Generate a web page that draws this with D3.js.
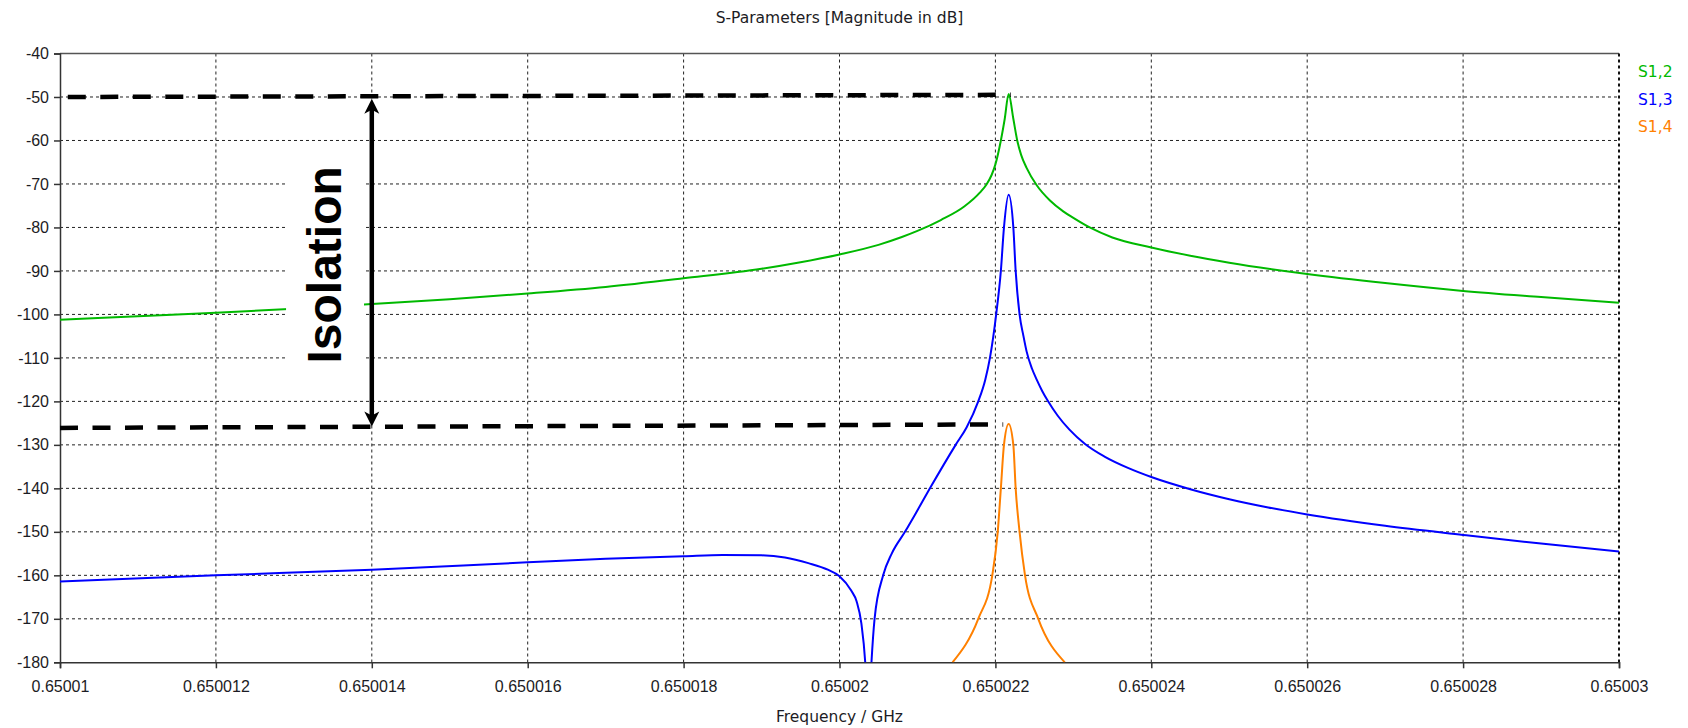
<html>
<head>
<meta charset="UTF-8"/>
<script src="https://d3js.org/d3.v7.min.js"></script>
<title>S-Parameters</title>
<style>
body{ margin:0; background:#fff; }
svg{ background:#fff; font-family:"DejaVu Sans", Verdana, sans-serif; }
.tick text{ font-size:16px; fill:#1c1c24; }
.grid line{ stroke:#222; stroke-dasharray:3,3; stroke-width:1; }
</style>
</head>
<body>
<svg id="plot" width="1688" height="728"></svg>
<script>
'use strict';
// frequency ticks (GHz) and their labels as shown
var xTicks = [0.65001,0.650012,0.650014,0.650016,0.650018,0.65002,0.650022,0.650024,0.650026,0.650028,0.65003];
var xLabels = ['0.65001','0.650012','0.650014','0.650016','0.650018','0.65002','0.650022','0.650024','0.650026','0.650028','0.65003'];
var yTicks = [-40,-50,-60,-70,-80,-90,-100,-110,-120,-130,-140,-150,-160,-170,-180];

// curves: [frequency GHz, dB]
var s12 = [[0.65001,-101.2],[0.650011,-100.4],[0.650012,-99.6],[0.650013,-98.7],[0.650014,-97.6],
  [0.650015,-96.5],[0.650016,-95.2],[0.650017,-93.7],[0.650018,-91.7],[0.650019,-89.5],[0.6500195,-88.0],
  [0.65002,-86.2],[0.6500205,-84.0],[0.6500208,-82.2],[0.650021,-80.8],[0.6500213,-78.3],[0.6500216,-75.2],
  [0.6500218,-72.0],[0.65002189,-70],[0.65002195,-68],[0.650022,-65.5],[0.65002207,-60],[0.65002212,-55],
  [0.65002217,-49.3],[0.65002223,-55],[0.65002228,-60],[0.65002233,-63.3],[0.6500224,-66.3],[0.65002253,-70.3],
  [0.6500227,-73.8],[0.65002287,-76.3],[0.650023,-77.8],[0.65002321,-80],[0.6500235,-82.3],[0.650024,-84.6],
  [0.6500245,-86.5],[0.650025,-88.1],[0.650026,-90.7],[0.650027,-92.8],[0.650028,-94.6],[0.650029,-96],
  [0.65003,-97.3]];
var s13 = [[0.65001,-161.4],[0.650012,-160.0],[0.650014,-158.7],[0.650016,-157.0],[0.650017,-156.2],
  [0.650018,-155.6],[0.6500185,-155.3],[0.650019,-155.4],[0.6500193,-155.9],[0.6500196,-157.2],
  [0.65001985,-158.7],[0.65002,-160.2],[0.65002015,-163.5],[0.65002022,-166],[0.65002028,-171],
  [0.65002033,-180],[0.65002037,-195],[0.65002041,-180],[0.65002045,-170],[0.65002056,-160],
  [0.65002067,-155],[0.65002084,-150],[0.65002097,-146],[0.65002116,-140],[0.65002149,-130],
  [0.65002163,-126],[0.65002178,-120],[0.65002187,-115],[0.65002193,-110],[0.65002201,-100],
  [0.65002207,-90],[0.65002211,-80],[0.65002217,-72.5],[0.65002223,-80],[0.65002226,-90],
  [0.65002231,-100],[0.65002236,-105],[0.6500224,-108.5],[0.65002247,-112.5],[0.65002253,-115],
  [0.6500226,-117.6],[0.65002267,-119.8],[0.6500228,-123.3],[0.65002295,-126.5],[0.65002315,-129.8],
  [0.6500234,-132.7],[0.6500237,-135.3],[0.650024,-137.4],[0.6500245,-140.2],[0.650025,-142.5],
  [0.6500255,-144.4],[0.650026,-146],[0.650027,-148.6],[0.650028,-150.7],[0.650029,-152.7],[0.65003,-154.5]];
var s14 = [[0.65002145,-180],[0.65002178,-170],[0.65002196,-160],[0.65002203,-150],[0.65002207,-140],
  [0.65002211,-130],[0.65002217,-125.2],[0.65002223,-130],[0.65002226,-140],[0.65002231,-150],
  [0.65002238,-160],[0.65002255,-170],[0.65002289,-180]];
var seriesNames = ['S1,2','S1,3','S1,4'];
var seriesColors = ['#00b900','#0000ff','#ff8000'];

// annotation (hand drawn lines) in data units
var isoTop = [[0.6500101,-50.0],[0.6500222,-49.5]];
var isoBottom = [[0.6500100,-126.1],[0.6500221,-125.3]];
var arrowAt = [0.650014,-50.4,-125.8];
var labelBox = [0.6500129,0.6500139,-62.2,-116.2];
var labelPos = [0.65001361,-88.6];

var svg = d3.select('#plot');
var L = 60, R = 1619, T = 53.5, B = 662.3;
var x = d3.scaleLinear().domain([0.65001,0.65003]).range([L,R]);
var y = d3.scaleLinear().domain([-180,-40]).range([B,T]);

svg.append('defs').append('clipPath').attr('id','clip')
  .append('rect').attr('x',L).attr('y',T).attr('width',R-L).attr('height',B-T);

// grid
var grid = svg.append('g').attr('class','grid');
grid.selectAll('.gx').data(xTicks.slice(1,-1)).enter().append('line')
  .attr('x1',d=>x(d)).attr('x2',d=>x(d)).attr('y1',T).attr('y2',B);
grid.selectAll('.gy').data(yTicks.slice(1,-1)).enter().append('line')
  .attr('x1',L).attr('x2',R).attr('y1',d=>y(d)).attr('y2',d=>y(d));

// frame
svg.append('line').attr('x1',L).attr('x2',R).attr('y1',T).attr('y2',T)
  .attr('stroke','#555').attr('stroke-width',1.5);
svg.append('line').attr('x1',R).attr('x2',R).attr('y1',T).attr('y2',B)
  .attr('stroke','#111').attr('stroke-width',2).attr('stroke-dasharray','3,3');

var xAxis = d3.axisBottom(x).tickValues(xTicks).tickFormat((d,i)=>xLabels[i]).tickSize(6).tickPadding(12);
var yAxis = d3.axisLeft(y).tickValues(yTicks).tickFormat(d=>d).tickSize(6).tickPadding(5);
var gx = svg.append('g').attr('transform','translate(0,'+B+')').call(xAxis);
var gy = svg.append('g').attr('transform','translate('+L+',0)').call(yAxis);
[gx,gy].forEach(function(g){
  g.select('.domain').attr('stroke','#333').attr('stroke-width',1.5);
  g.selectAll('.tick line').attr('stroke','#333').attr('stroke-width',1.5);
});
gx.selectAll('.tick text').attr('dy','0.71em');

// curves
var line = d3.line().x(d=>x(d[0])).y(d=>y(d[1])).curve(d3.curveMonotoneX);
var curves = svg.append('g').attr('clip-path','url(#clip)');
[s12,s13,s14].forEach(function(s,i){
  curves.append('path').datum(s).attr('d',line).attr('fill','none')
    .attr('stroke',seriesColors[i]).attr('stroke-width',2);
});

// legend
svg.selectAll('.leg').data(seriesNames).enter().append('text')
  .attr('x',R+19).attr('y',(d,i)=>77+i*27.5)
  .attr('font-size','15.5px').attr('fill',(d,i)=>seriesColors[i]).text(d=>d);

// titles
svg.append('text').attr('x',(L+R)/2).attr('y',23).attr('text-anchor','middle')
  .attr('font-size','15.5px').attr('fill','#1c1c24').text('S-Parameters [Magnitude in dB]');
svg.append('text').attr('x',(L+R)/2).attr('y',722).attr('text-anchor','middle')
  .attr('font-size','15.5px').attr('fill','#1c1c24').text('Frequency / GHz');

// isolation annotation
var dash = d3.line().x(d=>x(d[0])).y(d=>y(d[1]));
[isoTop,isoBottom].forEach(function(s){
  svg.append('path').datum(s).attr('d',dash).attr('stroke','#000')
    .attr('stroke-width',4.5).attr('stroke-dasharray','18,14.5');
});
svg.append('rect').attr('x',x(labelBox[0])).attr('width',x(labelBox[1])-x(labelBox[0]))
  .attr('y',y(labelBox[2])).attr('height',y(labelBox[3])-y(labelBox[2])).attr('fill','#fff');

var ax = x(arrowAt[0]), ay1 = y(arrowAt[1]), ay2 = y(arrowAt[2]);
svg.append('line').attr('x1',ax).attr('x2',ax).attr('y1',ay1+8).attr('y2',ay2-8)
  .attr('stroke','#000').attr('stroke-width',4.5);
function head(tx,ty,dir){
  return 'M'+tx+','+ty+' L'+(tx-7.5)+','+(ty+dir*15)+' L'+tx+','+(ty+dir*11)+' L'+(tx+7.5)+','+(ty+dir*15)+' Z';
}
svg.append('path').attr('d',head(ax,ay1,1)).attr('fill','#000');
svg.append('path').attr('d',head(ax,ay2,-1)).attr('fill','#000');

svg.append('text')
  .attr('transform','translate('+x(labelPos[0])+','+y(labelPos[1])+') rotate(-90)')
  .attr('text-anchor','middle').attr('font-family','"Liberation Sans", Arial, sans-serif')
  .attr('font-weight','bold').attr('font-size','48px').attr('fill','#000').text('Isolation');
</script>
</body>
</html>
